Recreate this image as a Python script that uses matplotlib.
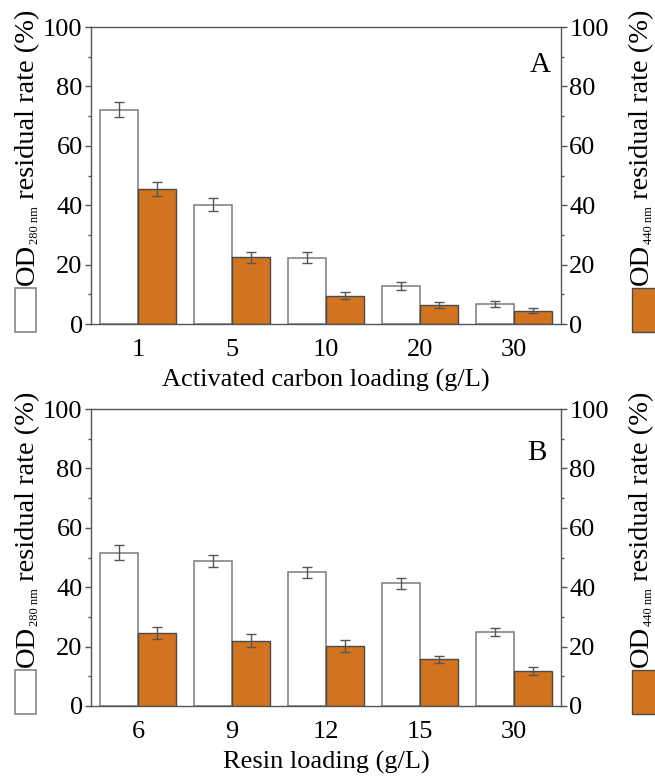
import matplotlib
matplotlib.use('Agg')
import matplotlib.pyplot as plt
import numpy as np
from matplotlib.patches import Rectangle
from matplotlib.ticker import MultipleLocator

plt.rcParams['font.family'] = ['Liberation Serif', 'DejaVu Serif']

# ---- data ----
carbon_labels = ['1', '5', '10', '20', '30']
carbon_od280 = [72.2, 40.1, 22.3, 12.9, 6.8]
carbon_od280_err = [2.5, 2.2, 1.85, 1.4, 0.95]
carbon_od440 = [45.5, 22.4, 9.5, 6.4, 4.5]
carbon_od440_err = [2.35, 2.0, 1.2, 0.85, 0.85]

resin_labels = ['6', '9', '12', '15', '30']
resin_od280 = [51.6, 48.9, 45.1, 41.3, 25.0]
resin_od280_err = [2.6, 2.1, 1.85, 1.8, 1.4]
resin_od440 = [24.5, 22.0, 20.2, 15.7, 11.8]
resin_od440_err = [2.0, 2.1, 2.0, 1.3, 1.35]

xlabel_top = 'Activated carbon loading (g/L)'
xlabel_bottom = 'Resin loading (g/L)'

W, H = 655, 776
ORANGE = '#D2741F'
FS = 19

fig = plt.figure(figsize=(W / 100, H / 100), dpi=100)


def px_axes(x0, y0, x1, y1):
    return [x0 / W, 1 - y1 / H, (x1 - x0) / W, (y1 - y0) / H]


def panel(rect, labels, w, we, o, oe, xlabel, letter, letter_pos):
    ax = fig.add_axes(rect)
    x = np.arange(len(labels))
    bw = 0.4
    ekw = dict(ecolor='#555555', elinewidth=1.0, capsize=3.5, capthick=1.0)
    ax.bar(x - bw / 2, w, bw, color='white', edgecolor='#7a7a7a', linewidth=1.1,
           yerr=we, error_kw=ekw, zorder=2)
    ax.bar(x + bw / 2, o, bw, color=ORANGE, edgecolor='#4a4a4a', linewidth=1.0,
           yerr=oe, error_kw=ekw, zorder=2)
    ax.set_xlim(-0.5, len(labels) - 0.5)
    ax.set_ylim(0, 100)
    ax.set_xticks(x)
    ax.set_xticklabels(labels)
    ax.yaxis.set_major_locator(MultipleLocator(20))
    ax.yaxis.set_minor_locator(MultipleLocator(10))
    ax.tick_params(axis='x', length=0, pad=10.5, labelsize=FS)
    ax.tick_params(axis='y', which='major', direction='out', length=4, width=1,
                   color='#555555', pad=2, labelsize=FS)
    ax.tick_params(axis='y', which='minor', direction='out', length=2.5, width=1,
                   color='#555555')
    for s in ax.spines.values():
        s.set_color('#555555')
        s.set_linewidth(1.0)
    ax.set_xlabel(xlabel, fontsize=FS, labelpad=6)
    ax.text(letter_pos[0], letter_pos[1], letter, transform=ax.transAxes,
            ha='right', va='baseline', fontsize=FS + 2)

    ax2 = ax.twinx()
    ax2.set_ylim(0, 100)
    ax2.yaxis.set_major_locator(MultipleLocator(20))
    ax2.yaxis.set_minor_locator(MultipleLocator(10))
    ax2.tick_params(axis='y', which='major', direction='out', length=4, width=1,
                    color='#555555', pad=2, labelsize=FS)
    ax2.tick_params(axis='y', which='minor', direction='out', length=2.5, width=1,
                    color='#555555')
    for s in ax2.spines.values():
        s.set_visible(False)
    return ax


panel(px_axes(91, 27, 561, 324), carbon_labels, carbon_od280, carbon_od280_err,
      carbon_od440, carbon_od440_err, xlabel_top, 'A', (0.979, 0.848))
panel(px_axes(91, 409, 561, 706), resin_labels, resin_od280, resin_od280_err,
      resin_od440, resin_od440_err, xlabel_bottom, 'B', (0.970, 0.828))

fig.canvas.draw()
renderer = fig.canvas.get_renderer()


def rot_label(xb, ystart, sub):
    """Compose a rotated label from pieces; xb baseline x (px), ystart (px from top)."""
    pieces = [('OD', 20.5, 0), (sub, 9, 4), (' residual rate (%)', 20.5, 0)]
    y = ystart
    for txt, fs, off in pieces:
        t = fig.text((xb + off) / W, 1 - y / H, txt, fontsize=fs, rotation=90,
                     rotation_mode='anchor', ha='left', va='baseline')
        ext = t.get_window_extent(renderer)
        y -= ext.height


for dy in (0, 382):
    fig.add_artist(Rectangle((15 / W, 1 - (332 + dy) / H), 21 / W, 44 / H,
                             transform=fig.transFigure, facecolor='white',
                             edgecolor='#7a7a7a', linewidth=1.1))
    fig.add_artist(Rectangle((632 / W, 1 - (332 + dy) / H), 25 / W, 44 / H,
                             transform=fig.transFigure, facecolor=ORANGE,
                             edgecolor='#4a4a4a', linewidth=1.0))
    rot_label(34, 285 + dy, '280 nm')
    rot_label(648, 285 + dy, '440 nm')

fig.savefig('out.png', dpi=100)
